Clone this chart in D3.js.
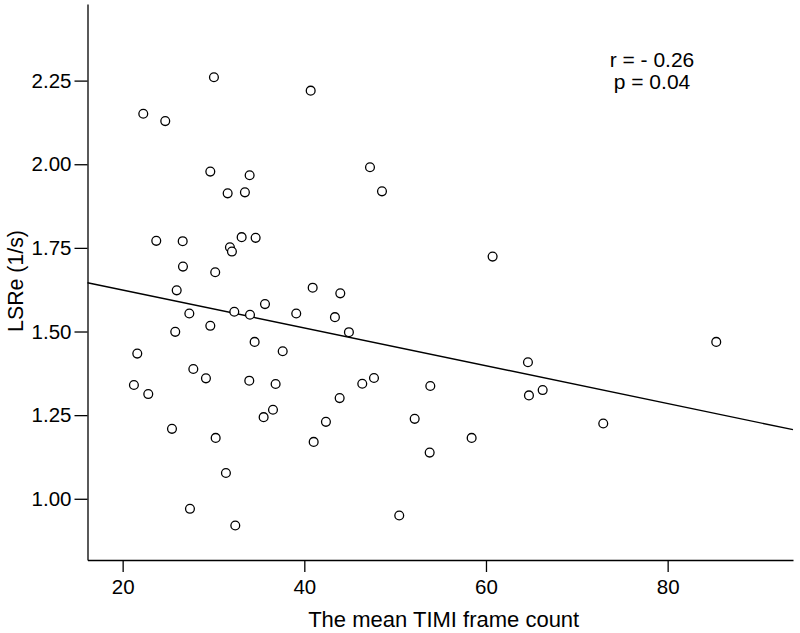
<!DOCTYPE html>
<html>
<head>
<meta charset="utf-8">
<script src="https://cdn.jsdelivr.net/npm/d3@7"></script>
<style>
  body { margin: 0; background: #fff; }
  text { font-family: "Liberation Sans", Arial, sans-serif; fill: #000; }
</style>
</head>
<body>
<div id="visualization"></div>
<script>
let timiCount = [
  30.05, 40.7, 22.27, 24.69, 29.65, 33.98, 31.56, 33.46, 23.7, 26.61,
  31.81, 32.03, 33.1, 34.64, 26.64, 30.19, 25.95, 40.92, 43.96, 27.34,
  32.29, 34.02, 35.67, 39.11, 43.37, 29.65, 25.79, 21.61, 34.53, 37.62,
  27.78, 29.17, 33.94, 36.84, 21.24, 22.82, 43.89, 36.55, 35.52, 42.38,
  25.43, 30.24, 41.03, 31.37, 27.41, 32.4, 47.23, 48.55, 60.73, 44.91,
  46.38, 47.67, 53.87, 64.62, 64.73, 66.24, 52.15, 58.42, 53.8, 50.45,
  72.91, 85.35
]

let lsre = [
  2.26, 2.22, 2.151, 2.129, 1.978, 1.967, 1.913, 1.916, 1.771, 1.77,
  1.752, 1.739, 1.782, 1.78, 1.694, 1.677, 1.623, 1.631, 1.614, 1.554,
  1.559, 1.55, 1.582, 1.554, 1.543, 1.517, 1.499, 1.434, 1.469, 1.441,
  1.388, 1.36, 1.353, 1.343, 1.34, 1.313, 1.301, 1.266, 1.244, 1.23,
  1.209, 1.182, 1.17, 1.077, 0.97, 0.92, 1.991, 1.919, 1.724, 1.498,
  1.344, 1.361, 1.337, 1.408, 1.309, 1.325, 1.239, 1.182, 1.138, 0.95,
  1.225, 1.469
]

let xTicks = [20, 40, 60, 80]
let yTicks = [1.00, 1.25, 1.50, 1.75, 2.00, 2.25]

// fit line as drawn in the original
let fitIntercept = 1.737
let fitSlope = -0.005655

let stats = ['r = - 0.26', 'p = 0.04']

let width = 800
let height = 633
let plotLeft = 87.5
let plotRight = 793
let plotTop = 4
let plotBottom = 560

let x = d3.scaleLinear().domain([16.13, 93.8]).range([plotLeft, plotRight])
let y = d3.scaleLinear().domain([0.817, 2.479]).range([plotBottom, plotTop])

let svg = d3.select('#visualization')
  .append('svg')
    .attr('width', width)
    .attr('height', height)

let xAxis = svg.append('g')
  .attr('transform', `translate(0,${plotBottom})`)
  .call(d3.axisBottom(x).tickValues(xTicks).tickSize(12).tickPadding(7).tickSizeOuter(0))

let yAxis = svg.append('g')
  .attr('transform', `translate(${plotLeft},0)`)
  .call(d3.axisLeft(y).tickValues(yTicks).tickFormat(d3.format('.2f')).tickSize(13).tickPadding(3).tickSizeOuter(0))

;[xAxis, yAxis].forEach(g => {
  g.select('.domain').attr('stroke', '#000').attr('stroke-width', 1.3)
  g.selectAll('.tick line').attr('stroke', '#000').attr('stroke-width', 1.3)
  g.selectAll('.tick text')
    .style('font-family', '"Liberation Sans", Arial, sans-serif')
    .style('font-size', '20.5px')
    .attr('fill', '#000')
})

// regression line
let fitX = x.domain()
svg.append('line')
  .attr('x1', x(fitX[0]))
  .attr('y1', y(fitIntercept + fitSlope * fitX[0]))
  .attr('x2', x(fitX[1]))
  .attr('y2', y(fitIntercept + fitSlope * fitX[1]))
  .attr('stroke', '#000')
  .attr('stroke-width', 1.4)

svg.selectAll('circle')
  .data(timiCount)
  .enter()
  .append('circle')
    .attr('cx', d => x(d))
    .attr('cy', (d, i) => y(lsre[i]))
    .attr('r', 4.4)
    .attr('fill', '#fff')
    .attr('stroke', '#000')
    .attr('stroke-width', 1.3)

svg.append('text')
  .attr('x', 443.7)
  .attr('y', 627)
  .attr('text-anchor', 'middle')
  .style('font-size', '22px')
  .text('The mean TIMI frame count')

svg.append('text')
  .attr('transform', 'translate(22.7,281) rotate(-90)')
  .attr('text-anchor', 'middle')
  .style('font-size', '21.3px')
  .text('LSRe (1/s)')

svg.selectAll('.stat')
  .data(stats)
  .enter()
  .append('text')
    .attr('class', 'stat')
    .attr('x', 652)
    .attr('y', (d, i) => 67 + i * 22)
    .attr('text-anchor', 'middle')
    .style('font-size', '21px')
    .text(d => d)
</script>
</body>
</html>
